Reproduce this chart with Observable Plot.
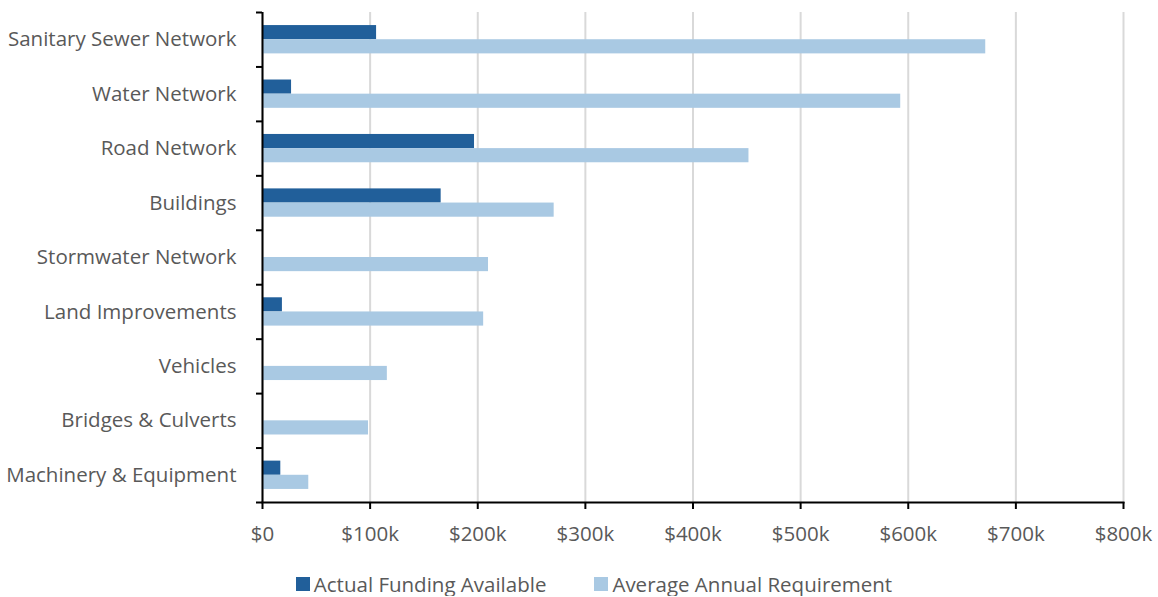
<!DOCTYPE html>
<html>
<head>
<meta charset="utf-8">
<script src="https://cdn.jsdelivr.net/npm/d3@7"></script>
<script src="https://cdn.jsdelivr.net/npm/@observablehq/plot@0.6"></script>
<style>
  body { margin: 0; background: #fff; font-family: "Open Sans", sans-serif; }
  #chart svg { display: block; }
  .legend { display: flex; justify-content: center; gap: 48px; margin-top: 17px; padding-left: 30px;
            font-size: 20.5px; color: #595959; line-height: 24px; }
  .legend span.item { display: flex; align-items: center; }
  .legend span.sw { display: inline-block; width: 14px; height: 14px; margin-right: 4px; }
</style>
</head>
<body>
<div id="chart"></div>
<script>
const categories = [
  "Sanitary Sewer Network", "Water Network", "Road Network", "Buildings",
  "Stormwater Network", "Land Improvements", "Vehicles", "Bridges & Culverts",
  "Machinery & Equipment"
];
const actualFunding = [106000, 27000, 197000, 166000, 0, 18500, 0, 0, 17000];
const annualRequirement = [672000, 593000, 452000, 271000, 210000, 205500, 116000, 98500, 43000];
const seriesNames = ["Actual Funding Available", "Average Annual Requirement"];
const seriesColors = ["#215F9A", "#A9C9E3"];
const xTicks = [0, 100000, 200000, 300000, 400000, 500000, 600000, 700000, 800000];

const W = 1158, H = 555;
const mTop = 12, mBottom = 53, mLeft = 262, mRight = 35;
const step = (H - mTop - mBottom) / categories.length;
const barH = step * 0.26;

const dark = categories.map((c, i) => ({category: c, value: actualFunding[i]}));
const light = categories.map((c, i) => ({category: c, value: annualRequirement[i]}));
const fmt = d => d === 0 ? "$0" : `$${d / 1000}k`;
const textColor = "#595959";

const chart = Plot.plot({
  width: W, height: H,
  marginTop: mTop, marginBottom: mBottom, marginLeft: mLeft, marginRight: mRight,
  style: {fontFamily: "'Open Sans', sans-serif", fontSize: "20.5px", color: textColor, background: "white"},
  x: {domain: [0, 800000]},
  y: {domain: categories, padding: 0, round: false},
  marks: [
    Plot.gridX(xTicks, {stroke: "#d9d9d9", strokeOpacity: 1, strokeWidth: 2}),
    Plot.barX(dark, {x: "value", y: "category", fill: seriesColors[0],
      insetTop: step / 2 - barH, insetBottom: step / 2}),
    Plot.barX(light, {x: "value", y: "category", fill: seriesColors[1],
      insetTop: step / 2, insetBottom: step / 2 - barH}),
    Plot.axisY({tickSize: 0, tickPadding: 26, fontSize: 20.5, fill: textColor, label: null}),
    Plot.axisY({tickSize: 6, tickFormat: () => "", dy: -step / 2, stroke: "black", strokeWidth: 2, label: null}),
    Plot.axisY({ticks: [categories[categories.length - 1]], tickSize: 6, tickFormat: () => "", dy: step / 2, stroke: "black", strokeWidth: 2, label: null}),
    Plot.axisX({ticks: xTicks, tickFormat: fmt, tickSize: 7, tickPadding: 17, stroke: "black", strokeWidth: 2, fill: textColor, fontSize: 20.5, label: null}),
    Plot.ruleX([0], {stroke: "black", strokeWidth: 2}),
    Plot.frame({anchor: "bottom", stroke: "black", strokeWidth: 2})
  ]
});
document.getElementById("chart").appendChild(chart);

const legend = document.createElement("div");
legend.className = "legend";
seriesNames.forEach((name, i) => {
  const item = document.createElement("span");
  item.className = "item";
  const sw = document.createElement("span");
  sw.className = "sw";
  sw.style.background = seriesColors[i];
  item.appendChild(sw);
  item.appendChild(document.createTextNode(name));
  legend.appendChild(item);
});
document.body.appendChild(legend);
</script>
</body>
</html>
